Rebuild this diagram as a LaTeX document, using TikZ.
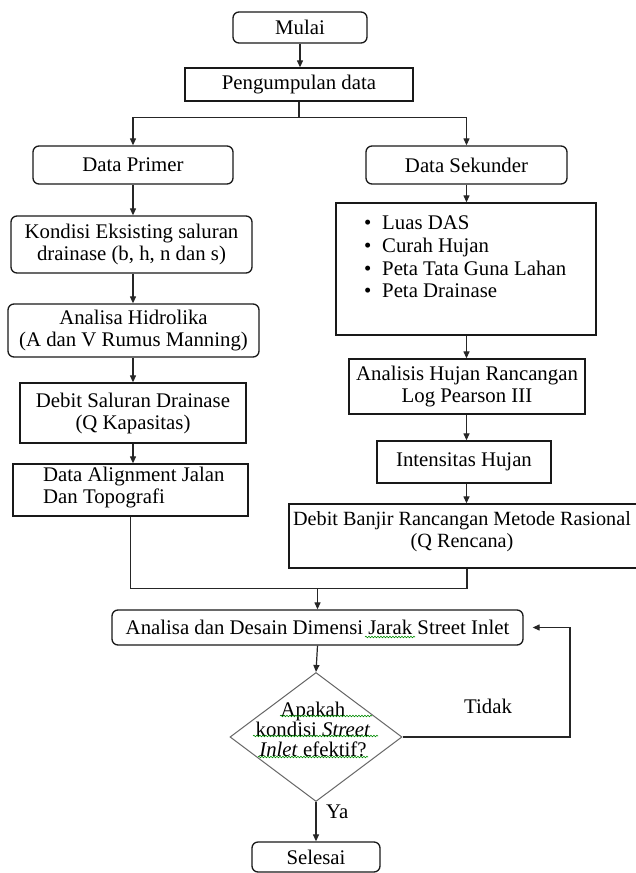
\documentclass[tikz,border=0pt]{standalone}
\usepackage{fontspec}
\setmainfont{Liberation Serif}
\usetikzlibrary{shapes.geometric,arrows.meta,decorations.pathmorphing}
\begin{document}
\begin{tikzpicture}[x=1pt,y=-1pt,
  font=\fontsize{20.8}{22}\selectfont,
  box/.style={draw=black!90,line width=1.3pt,inner sep=0pt,align=center},
  rbox/.style={box,rounded corners=6pt},
  conn/.style={line width=1.2pt,draw=black!85},
  arr/.style={conn,-{Triangle[length=7pt,width=6pt]}},
  squig/.style={draw=green!55!black,line width=0.6pt,decorate,decoration={snake,amplitude=0.8pt,segment length=3pt}},
  lbl/.style={inner sep=0pt,text height=14.5pt,text depth=4.5pt}]
\useasboundingbox (0,0) rectangle (635,873);
\fill[white] (0,0) rectangle (635,873);

% left column
\node[rbox,minimum width=134pt,minimum height=31pt] (mulai) at (300,27.5) {Mulai};
\node[box,minimum width=228pt,minimum height=33pt] (peng) at (299,84.5) {Pengumpulan data};
\node[rbox,minimum width=200pt,minimum height=38pt] (primer) at (133,165) {Data Primer};
\node[rbox,minimum width=201pt,minimum height=38pt] (sekunder) at (466.5,165) {Data Sekunder};
\node[rbox,minimum width=241pt,minimum height=57pt] (kondisi) at (131.5,244.5) {Kondisi Eksisting saluran\\drainase (b, h, n dan s)};
\node[rbox,minimum width=251pt,minimum height=53pt] (hidro) at (133.5,330.5) {Analisa Hidrolika\\(A dan V Rumus Manning)};
\node[box,minimum width=226pt,minimum height=60pt] (debit) at (133,413) {Debit Saluran Drainase\\(Q Kapasitas)};
\node[box,minimum width=235pt,minimum height=52pt] (align) at (130.5,490) {};
\node[align=left,inner sep=0pt,anchor=west] (aligntxt) at (43,488) {Data Alignment Jalan\\Dan Topografi};

% right column
\node[box,minimum width=260pt,minimum height=132pt] (data2) at (466,269) {};
\node[lbl,anchor=west] (b1) at (364,224) {\makebox[18pt][l]{\textbullet}Luas DAS};
\node[lbl,anchor=west] (b2) at (364,247) {\makebox[18pt][l]{\textbullet}Curah Hujan};
\node[lbl,anchor=west] (b3) at (364,270) {\makebox[18pt][l]{\textbullet}Peta Tata Guna Lahan};
\node[lbl,anchor=west] (b4) at (364,292) {\makebox[18pt][l]{\textbullet}Peta Drainase};
\node[box,minimum width=236pt,minimum height=55pt] (hujan) at (467,386.5) {Analisis Hujan Rancangan\\Log Pearson III};
\node[box,minimum width=174pt,minimum height=42pt] (intens) at (464,462) {Intensitas Hujan};
\node[box,minimum width=356pt,minimum height=64pt] (banjir) at (467,536) {};
\node[inner sep=0pt,align=center,font=\fontsize{20.2}{22}\selectfont] (banjirtxt) at (462,531.5) {Debit Banjir Rancangan Metode Rasional\\(Q Rencana)};

% bottom
\node[rbox,minimum width=411pt,minimum height=35pt] (analisa) at (317.5,627.5) {Analisa dan Desain Dimensi Jarak Street Inlet};
\node[diamond,draw=black!60,line width=1pt,minimum width=172pt,minimum height=129pt,inner sep=0pt] (diam) at (316,737) {};
\node[align=center,inner sep=0pt,font=\fontsize{20.8}{20}\selectfont] (diamtxt) at (313,729) {Apakah\\kondisi \textit{Street}\\\textit{Inlet} efektif?};
\node[rbox,minimum width=128pt,minimum height=30pt] (selesai) at (316,857) {Selesai};
\node[lbl,anchor=west] (ya) at (326,813) {Ya};
\node[lbl] (tidak) at (488,708) {Tidak};

% spell-check squiggles
\draw[squig] (280,716) -- (372,716);
\draw[squig] (253,736) -- (378,736);
\draw[squig] (258,757) -- (368,757);
\draw[squig] (365,637) -- (415,637);

% connectors
\draw[arr] (mulai.south) -- (mulai.south |- peng.north);
\draw[conn] (peng.south) -- ++(0,16) coordinate (split);
\draw[arr] (split) -| (primer.north);
\draw[arr] (split) -| (sekunder.north);
\draw[arr] (primer.south) -- (primer.south |- kondisi.north);
\draw[arr] (primer.south |- kondisi.south) -- (primer.south |- hidro.north);
\draw[arr] (primer.south |- hidro.south) -- (primer.south |- debit.north);
\draw[arr] (primer.south |- debit.south) -- (primer.south |- align.north);
\draw[arr] (sekunder.south) -- (sekunder.south |- data2.north);
\draw[arr] (sekunder.south |- data2.south) -- (sekunder.south |- hujan.north);
\draw[arr] (sekunder.south |- hujan.south) -- (sekunder.south |- intens.north);
\draw[arr] (sekunder.south |- intens.south) -- (sekunder.south |- banjir.north);
\draw[conn] (align.south) -- ++(0,72) coordinate (mergeL) -| (banjir.south);
\coordinate (merge) at (analisa.north |- mergeL);
\draw[arr] (merge) -- (analisa.north);
\draw[arr] (analisa.south) -- (diam.north);
\draw[arr] (diam.south) -- (selesai.north);
\coordinate (loop) at (570,737);
\draw[arr,shorten >=9pt] (diam.east) -- (loop) |- (analisa.east);
\end{tikzpicture}
\end{document}
